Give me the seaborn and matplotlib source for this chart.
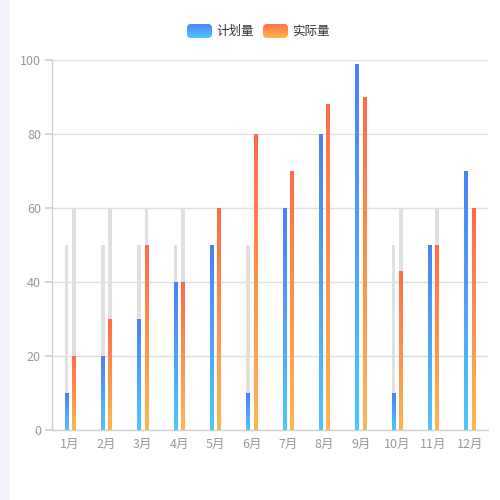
import numpy as np
import pandas as pd
import matplotlib
matplotlib.use("Agg")
import matplotlib.pyplot as plt
import seaborn as sns
from matplotlib.patches import Rectangle, FancyBboxPatch
from matplotlib.colors import LinearSegmentedColormap

# ---------- data ----------
months = ["1月", "2月", "3月", "4月", "5月", "6月",
          "7月", "8月", "9月", "10月", "11月", "12月"]
series = ["计划量", "实际量"]
plan = [10, 20, 30, 40, 50, 10, 60, 80, 99, 10, 50, 70]
actual = [20, 30, 50, 40, 60, 80, 70, 88, 90, 43, 50, 60]
plan_bg = [50] * 12
actual_bg = [60] * 12
y_ticks = [0, 20, 40, 60, 80, 100]

# gradients (top colour, bottom colour)
grads = {
    "计划量": ("#4c80f8", "#4fc6ff"),
    "实际量": ("#ff6b4a", "#ffb650"),
}

sns.set_theme(style="white")
plt.rcParams["font.family"] = ["Noto Sans CJK SC", "DejaVu Sans"]

df_bg = pd.DataFrame({
    "month": months * 2,
    "series": [series[0]] * 12 + [series[1]] * 12,
    "value": plan_bg + actual_bg,
})
df = pd.DataFrame({
    "month": months * 2,
    "series": [series[0]] * 12 + [series[1]] * 12,
    "value": plan + actual,
})

fig = plt.figure(figsize=(5, 5), dpi=100)
fig.patches.append(Rectangle((0, 0), 8 / 500, 1, transform=fig.transFigure,
                             color="#f2f3f8", zorder=0))
ax = fig.add_axes([52 / 500, 70 / 500, 436 / 500, 370 / 500])

sns.barplot(data=df_bg, x="month", y="value", hue="series", hue_order=series,
            palette=["#e0e0e0", "#e0e0e0"], width=0.4, errorbar=None,
            legend=False, ax=ax, zorder=2)
n_bg = len(ax.patches)
sns.barplot(data=df, x="month", y="value", hue="series", hue_order=series,
            palette=["#4c80f8", "#ff6b4a"], width=0.4, errorbar=None,
            legend=False, ax=ax, zorder=3)

bar_w = 0.095
for p in ax.patches:
    cx = p.get_x() + p.get_width() / 2
    p.set_x(cx - bar_w / 2)
    p.set_width(bar_w)
    p.set_linewidth(0)

# gradient fill for value bars
grad = np.linspace(0, 1, 256).reshape(-1, 1)
value_patches = ax.patches[n_bg:]
for i, p in enumerate(value_patches):
    name = series[i // 12]
    top, bottom = grads[name]
    cmap = LinearSegmentedColormap.from_list(name, [bottom, top])
    x0, h = p.get_x(), p.get_height()
    im = ax.imshow(grad, extent=(x0, x0 + bar_w, 0, h), origin="lower",
                   aspect="auto", cmap=cmap, zorder=4)
    im.set_clip_path(p)
    p.set_facecolor("none")

ax.set_xlim(-0.5, 11.5)
ax.set_ylim(0, 100)
ax.set_yticks(y_ticks)
ax.set_xlabel("")
ax.set_ylabel("")
ax.grid(axis="y", color="#e0e0e0", lw=1, zorder=0)
ax.set_axisbelow(True)
for s in ["top", "right"]:
    ax.spines[s].set_visible(False)
for s in ["left", "bottom"]:
    ax.spines[s].set_color("#d0d0d0")
    ax.spines[s].set_linewidth(1)
ax.tick_params(axis="y", length=5, color="#d0d0d0", labelcolor="#999999",
               labelsize=9, pad=3, left=True)
ax.tick_params(axis="x", length=0, labelcolor="#999999", labelsize=9, pad=6)

# legend with gradient icons
def legend_icon(x_px, name):
    top, bottom = grads[name]
    cmap = LinearSegmentedColormap.from_list(name + "_lg", [bottom, top])
    lax = fig.add_axes([x_px / 500, 1 - 38 / 500, 25 / 500, 14 / 500])
    lax.set_axis_off()
    im = lax.imshow(grad, extent=(0, 1, 0, 1), origin="lower",
                    aspect="auto", cmap=cmap)
    box = FancyBboxPatch((0, 0), 1, 1, boxstyle="round,pad=0,rounding_size=0.16",
                         mutation_aspect=25 / 14, transform=lax.transAxes,
                         facecolor="none", edgecolor="none")
    lax.add_patch(box)
    im.set_clip_path(box)
    lax.set_xlim(0, 1)
    lax.set_ylim(0, 1)

legend_icon(187, series[0])
legend_icon(263, series[1])
fig.text(216 / 500, 1 - 31 / 500, series[0], fontsize=9, color="#333333",
         va="center", ha="left")
fig.text(292 / 500, 1 - 31 / 500, series[1], fontsize=9, color="#333333",
         va="center", ha="left")

fig.savefig("out.png", dpi=100)
